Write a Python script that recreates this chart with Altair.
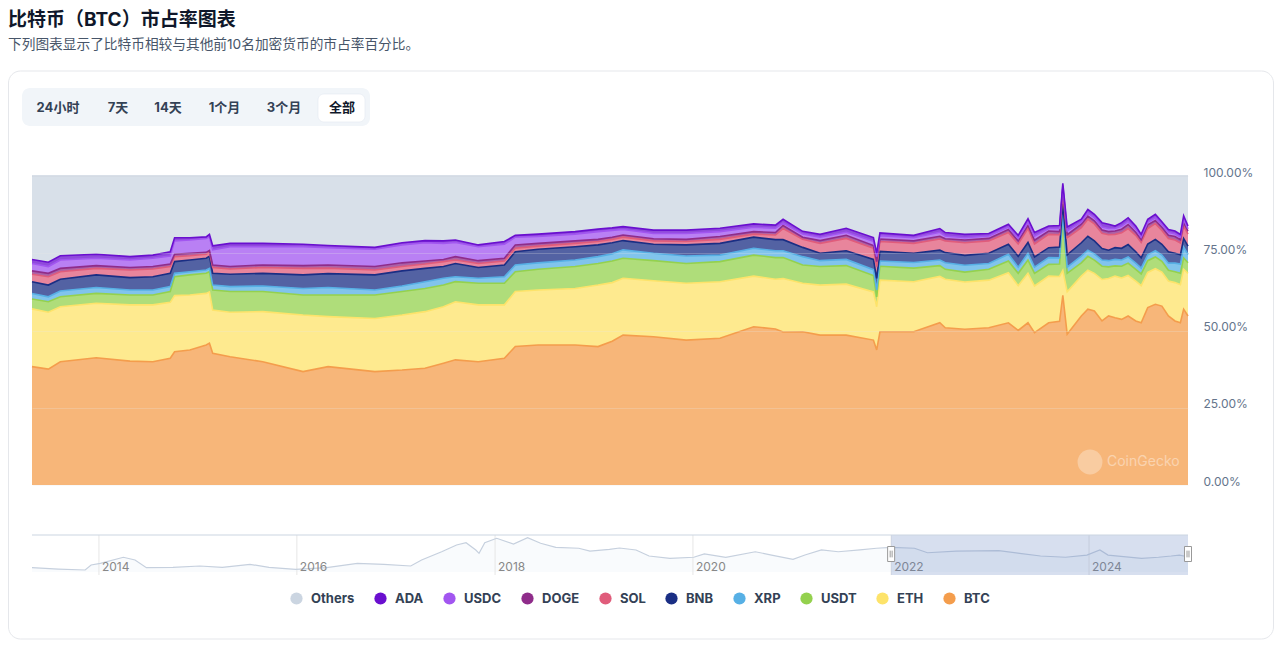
import altair as alt
import pandas as pd

# ---------------- data ----------------
dates = [
    "2022-01-01", "2022-01-16", "2022-01-27", "2022-03-01", "2022-04-01", "2022-04-22", "2022-05-08", "2022-05-12", "2022-05-26", "2022-06-10",
    "2022-06-13", "2022-06-16", "2022-07-02", "2022-08-01", "2022-09-07", "2022-09-30", "2022-11-12", "2022-12-07", "2022-12-28", "2023-01-14",
    "2023-01-25", "2023-02-15", "2023-03-11", "2023-03-21", "2023-04-11", "2023-05-15", "2023-06-05", "2023-06-18", "2023-06-28", "2023-07-26",
    "2023-08-25", "2023-09-25", "2023-10-26", "2023-11-15", "2023-11-22", "2023-12-10", "2023-12-26", "2024-01-19", "2024-02-13", "2024-02-16",
    "2024-02-19", "2024-03-21", "2024-04-14", "2024-04-19", "2024-05-07", "2024-05-29", "2024-06-16", "2024-06-25", "2024-07-04", "2024-07-10",
    "2024-07-23", "2024-08-02", "2024-08-05", "2024-08-09", "2024-08-22", "2024-08-28", "2024-09-03", "2024-09-10", "2024-09-16", "2024-09-22",
    "2024-09-28", "2024-10-04", "2024-10-11", "2024-10-16", "2024-10-22", "2024-10-29", "2024-11-04", "2024-11-10", "2024-11-16", "2024-11-21",
    "2024-11-24", "2024-11-28",
]

btc = [
    38.3, 37.5, 39.9, 41.2, 40.1, 39.9, 41.0, 43.1, 43.7, 45.3,
    45.9, 42.6, 41.5, 39.9, 36.7, 38.3, 36.7, 37.2, 37.8, 39.4,
    40.5, 39.9, 41.0, 44.8, 45.3, 45.3, 44.8, 46.5, 48.5, 48.0,
    46.9, 47.5, 51.2, 50.5, 49.5, 49.6, 48.5, 48.5, 46.9, 43.7,
    49.6, 49.6, 52.5, 50.9, 50.4, 50.9, 52.5, 50.0, 52.5, 49.3,
    52.5, 53.0, 61.4, 48.8, 54.7, 56.9, 56.3, 53.1, 54.7, 54.1,
    53.6, 54.7, 53.1, 52.5, 57.4, 58.5, 57.9, 54.7, 53.1, 52.5,
    56.9, 54.7,
]
eth = [
    18.7, 18.4, 17.8, 17.6, 18.2, 18.4, 18.1, 18.2, 17.8, 16.7,
    16.6, 14.0, 14.4, 16.2, 18.3, 16.2, 17.2, 17.8, 18.3, 18.3,
    18.8, 18.4, 17.3, 17.8, 17.8, 18.3, 19.9, 19.0, 18.4, 18.1,
    18.4, 18.3, 16.4, 16.1, 17.3, 15.7, 16.2, 16.5, 15.6, 14.0,
    16.7, 16.2, 15.0, 15.7, 15.3, 15.4, 16.2, 14.5, 16.0, 15.1,
    15.1, 14.5, 8.1, 13.7, 12.9, 12.6, 12.2, 13.4, 12.1, 13.5,
    13.4, 13.1, 12.9, 12.0, 11.4, 11.5, 11.0, 11.3, 12.4, 12.3,
    12.9, 13.8,
]
usdt = [
    3.2, 3.4, 3.2, 3.2, 3.2, 3.2, 3.5, 6.1, 6.5, 6.5,
    6.5, 6.5, 6.7, 6.5, 6.5, 7.0, 7.6, 7.6, 7.5, 7.0,
    6.5, 7.0, 7.0, 6.4, 6.7, 7.1, 7.0, 7.0, 6.5, 6.5,
    6.4, 6.5, 6.8, 7.0, 6.8, 5.9, 6.0, 6.0, 5.3, 3.2,
    4.5, 4.4, 3.5, 3.2, 3.2, 3.5, 3.8, 4.0, 4.3, 4.1,
    3.8, 4.0, 17.0, 6.0, 4.3, 4.5, 4.3, 4.3, 3.8, 3.3,
    3.8, 4.0, 3.8, 3.8, 3.8, 3.8, 3.5, 3.5, 3.5, 3.7,
    3.7, 3.4,
]
xrp = [
    1.8, 1.6, 1.9, 1.9, 1.6, 1.6, 1.6, 1.1, 1.0, 1.1,
    1.1, 1.6, 1.6, 1.8, 2.1, 2.4, 1.6, 1.8, 2.2, 2.2,
    1.6, 1.6, 2.1, 2.2, 2.1, 2.1, 2.2, 2.3, 2.7, 2.4,
    2.4, 2.1, 2.2, 2.2, 2.2, 2.7, 1.9, 2.0, 1.9, 2.2,
    1.7, 1.8, 1.8, 2.1, 2.2, 1.9, 2.2, 2.0, 2.2, 2.0,
    2.2, 2.0, 1.0, 2.0, 2.2, 2.0, 2.0, 2.0, 2.0, 2.1,
    2.0, 2.0, 2.0, 1.9, 1.9, 2.0, 2.0, 2.3, 2.8, 3.0,
    3.5, 2.7,
]
bnb = [
    3.8, 3.8, 3.8, 4.1, 4.0, 4.3, 4.3, 3.8, 3.8, 3.8,
    3.9, 3.8, 4.0, 4.1, 4.4, 4.5, 4.9, 4.9, 4.3, 3.8,
    4.3, 3.5, 3.8, 4.3, 4.4, 4.3, 3.8, 3.6, 3.0, 2.9,
    3.6, 3.8, 3.6, 3.6, 3.6, 3.0, 2.4, 2.8, 3.3, 3.8,
    3.1, 3.0, 3.2, 3.3, 3.2, 3.3, 3.2, 3.5, 3.5, 3.3,
    3.2, 3.5, 3.5, 4.0, 4.3, 4.5, 4.2, 3.7, 3.4, 3.8,
    3.8, 4.0, 3.7, 3.3, 3.5, 3.7, 3.5, 3.7, 3.2, 3.0,
    2.8, 2.7,
]
sol = [
    2.4, 2.7, 2.4, 2.1, 2.5, 2.5, 2.2, 1.6, 1.4, 1.3,
    1.3, 1.9, 1.7, 1.9, 2.1, 1.8, 1.6, 1.4, 1.4, 1.6,
    1.1, 1.3, 1.3, 1.1, 1.0, 1.1, 1.1, 1.1, 1.1, 1.1,
    1.1, 1.3, 1.0, 1.5, 3.6, 2.6, 3.2, 4.0, 3.6, 3.8,
    3.2, 3.2, 3.6, 3.8, 4.1, 4.0, 3.8, 4.0, 4.5, 4.2,
    4.3, 4.0, 4.2, 5.5, 4.9, 5.5, 5.5, 5.0, 5.0, 4.3,
    5.0, 5.2, 5.3, 5.0, 5.0, 5.1, 4.5, 4.3, 4.3, 3.8,
    4.0, 3.9,
]
doge = [
    1.1, 1.1, 1.1, 0.9, 0.8, 0.8, 0.8, 0.8, 0.8, 0.6,
    0.6, 0.8, 0.8, 0.8, 0.9, 1.0, 1.1, 1.2, 1.0, 0.7,
    1.1, 0.9, 0.9, 1.1, 0.9, 0.8, 0.7, 0.7, 0.7, 0.7,
    0.7, 0.9, 0.8, 0.8, 1.0, 0.7, 0.9, 1.0, 0.9, 1.6,
    0.8, 0.8, 0.9, 0.7, 0.9, 0.8, 1.0, 1.0, 1.0, 1.2,
    1.1, 1.0, 0.8, 1.0, 1.1, 1.0, 1.0, 1.0, 1.0, 1.1,
    1.2, 1.3, 1.0, 0.9, 1.2, 1.0, 1.0, 1.0, 1.1, 1.1,
    1.1, 1.0,
]
usdc = [
    2.4, 2.2, 2.7, 2.4, 2.4, 2.7, 2.6, 4.3, 4.3, 4.5,
    4.4, 4.9, 6.4, 5.9, 6.1, 5.6, 5.6, 5.8, 5.9, 5.2,
    4.6, 4.5, 4.5, 2.5, 2.2, 2.2, 2.5, 2.2, 1.8, 1.7,
    1.9, 1.6, 1.4, 1.4, 0.8, 1.0, 1.1, 1.0, 1.4, 1.6,
    1.1, 1.0, 1.3, 0.9, 0.7, 0.8, 0.8, 0.8, 1.0, 1.3,
    0.8, 1.0, 0.9, 1.2, 0.7, 1.0, 1.0, 1.0, 1.0, 0.8,
    1.0, 1.0, 1.0, 0.8, 0.8, 0.9, 0.9, 0.9, 0.9, 0.8,
    1.1, 0.7,
]
ada = [
    1.3, 1.4, 1.4, 1.3, 1.1, 1.0, 1.4, 1.0, 0.7, 0.5,
    0.8, 1.3, 1.1, 1.1, 0.8, 0.7, 0.6, 0.7, 0.7, 0.8,
    0.8, 0.6, 0.9, 0.6, 0.8, 0.8, 0.8, 0.8, 0.9, 1.1,
    1.1, 1.1, 1.1, 1.0, 1.2, 0.9, 0.9, 1.3, 1.2, 1.1,
    0.9, 0.8, 1.2, 1.1, 1.1, 0.8, 0.9, 1.0, 1.2, 1.2,
    0.8, 1.0, 0.7, 1.3, 0.9, 1.2, 1.1, 1.4, 1.4, 0.8,
    1.1, 1.2, 1.0, 0.9, 1.0, 1.1, 0.9, 1.0, 0.9, 0.9,
    1.1, 0.9,
]
others = [
    27.0, 27.9, 25.8, 25.3, 26.1, 25.6, 24.5, 20.0, 20.0, 19.7,
    18.9, 22.6, 21.8, 21.8, 22.1, 22.5, 23.1, 21.6, 20.9, 21.0,
    20.7, 22.3, 21.2, 19.2, 18.8, 18.0, 17.2, 16.8, 16.4, 17.5,
    17.5, 16.9, 15.5, 15.9, 14.0, 17.9, 18.9, 16.9, 19.9, 25.0,
    18.4, 19.2, 17.0, 18.3, 18.9, 18.6, 15.6, 19.2, 13.8, 18.3,
    16.2, 16.0, 2.4, 16.5, 14.0, 10.8, 12.4, 15.1, 15.6, 16.2,
    15.1, 13.5, 16.2, 18.9, 14.0, 12.4, 14.8, 17.3, 17.8, 18.9,
    12.9, 16.2,
]

# navigator (whole history, "Others" share)
nav_dates = [
    "2013-04-29", "2013-08-04", "2013-11-11", "2013-12-03",
    "2014-01-06", "2014-04-01", "2014-05-14", "2014-06-25", "2014-10-01",
    "2015-01-08", "2015-04-01", "2015-07-12", "2015-09-20", "2015-12-27",
    "2016-04-20", "2016-08-11", "2016-11-17",
    "2017-02-24", "2017-04-05", "2017-06-18", "2017-08-12", "2017-09-16", "2017-10-22", "2017-11-03", "2017-11-24",
    "2018-01-07", "2018-03-10", "2018-05-01", "2018-06-18", "2018-08-13", "2018-11-06", "2018-12-17",
    "2019-02-27", "2019-04-05", "2019-06-05", "2019-07-23", "2019-10-08",
    "2020-01-04", "2020-02-12", "2020-05-01", "2020-08-18", "2020-10-17",
    "2021-01-04", "2021-02-17", "2021-04-19", "2021-06-20", "2021-09-08", "2021-11-08",
    "2022-01-01", "2022-03-28", "2022-05-15", "2022-08-29",
    "2023-02-02", "2023-04-20", "2023-07-06", "2023-10-06", "2023-12-24",
    "2024-02-10", "2024-03-11", "2024-07-13", "2024-09-13", "2024-10-30", "2024-11-29", "2024-12-31",
]
nav_values = [
    4.9, 3.4, 2.3, 7.9,
    9.8, 16.6, 13.5, 4.9, 5.3,
    6.8, 5.3, 8.7, 5.3, 3.1,
    4.9, 9.8, 8.7,
    6.8, 13.5, 22.8, 30.4, 33.0, 24.8, 21.0, 33.0,
    37.9, 31.5, 38.6, 32.3, 27.8, 26.7, 23.6,
    25.5, 27.0, 24.8, 18.0, 15.4,
    16.6, 20.3, 16.6, 22.8, 19.1,
    14.3, 19.1, 24.8, 22.8, 24.8, 26.7,
    27.8, 26.7, 21.7, 23.6,
    24.0, 21.0, 18.0, 16.6, 19.1,
    24.8, 19.1, 15.4, 16.6, 18.0, 19.1, 17.2,
]
nav_years = [2014, 2016, 2018, 2020, 2022, 2024]

x_tick_months = [(2022, 4), (2022, 7), (2022, 10), (2023, 1), (2023, 4), (2023, 7),
                 (2023, 10), (2024, 1), (2024, 4), (2024, 7), (2024, 10)]
y_ticks = [0, 25, 50, 75, 100]

legend_order = ["Others", "ADA", "USDC", "DOGE", "SOL", "BNB", "XRP", "USDT", "ETH", "BTC"]
legend_colors = ["#cbd5e1", "#6a0fcf", "#a256f0", "#8f2c8a", "#e05c7b", "#1a2e84", "#57b0e5", "#94d14e", "#fde36a", "#f49d4c"]
stack_order = ["BTC", "ETH", "USDT", "XRP", "BNB", "SOL", "DOGE", "USDC", "ADA", "Others"]

button_labels = ["24小时", "7天", "14天", "1个月", "3个月", "全部"]
title_text = "比特币（BTC）市占率图表"
subtitle_text = "下列图表显示了比特币相较与其他前10名加密货币的市占率百分比。"

# ---------------- build tables ----------------
series = {"BTC": btc, "ETH": eth, "USDT": usdt, "XRP": xrp, "BNB": bnb, "SOL": sol,
          "DOGE": doge, "USDC": usdc, "ADA": ada, "Others": others}
rows = []
for rank, coin in enumerate(stack_order):
    vals = series[coin]
    assert len(vals) == len(dates), coin
    for d, v in zip(dates, vals):
        rows.append({"date": d, "coin": coin, "value": v, "rank": rank})
df = pd.DataFrame(rows)
assert len(nav_dates) == len(nav_values)
nav_df = pd.DataFrame({"date": nav_dates, "value": nav_values})
years_df = pd.DataFrame({"date": [f"{y}-01-01" for y in nav_years], "label": [str(y) for y in nav_years]})
mask_df = pd.DataFrame({"date": ["2022-01-01"], "end": ["2024-12-31"]})
handles_df = pd.DataFrame({"date": ["2022-01-01", "2024-12-31"]})
one = pd.DataFrame({"k": [0]})

FONT = "Inter, 'Noto Sans CJK SC', sans-serif"
W, H = 1156, 309


def utc(y, m, d):
    return alt.DateTime(year=y, month=m, date=d, utc=True)


# ---------------- main chart ----------------
x_scale = alt.Scale(type="utc", domain=[utc(2022, 1, 1), utc(2024, 11, 28)], nice=False)
y_scale = alt.Scale(domain=[0, 100], nice=False, zero=True)

x_axis = alt.Axis(
    values=[utc(y, m, 1) for y, m in x_tick_months],
    labelExpr="utcFormat(datum.value, '%-m') + \"月 '\" + utcFormat(datum.value, '%y')",
    grid=False, domain=False, ticks=True, tickSize=10, tickColor="#e2e8f0", tickWidth=1,
    labelPadding=0, labelFont=FONT, labelFontSize=12, labelColor="#64748b",
    title=None, labelFlush=False, labelOverlap=False,
)
y_axis = alt.Axis(
    orient="right", values=y_ticks, labelExpr="format(datum.value, '.2f') + '%'",
    domain=False, ticks=False, grid=True, gridColor="#e6e6e6", gridOpacity=0.25, gridWidth=1,
    zindex=1, labelPadding=15, labelAlign="left", labelBaseline="alphabetic",
    labelFont=FONT, labelFontSize=12, labelColor="#64748b", title=None,
    labelFlush=False, labelOverlap=False,
)
legend = alt.Legend(
    orient="none", legendX=258, legendY=416, direction="horizontal", title=None,
    symbolType="circle", symbolSize=150, symbolOpacity=1, symbolStrokeWidth=0,
    labelFont=FONT, labelFontSize=13, labelFontWeight="bold", labelColor="#334155",
    labelOffset=8, columnPadding=19, columns=10, gridAlign="none",
)
color_scale = alt.Scale(domain=legend_order, range=legend_colors)

stacked = alt.Chart(df).transform_stack(
    stack="value", groupby=["date"], as_=["y0", "y1"],
    sort=[alt.SortField("rank", order="ascending")],
)
areas = stacked.mark_area(opacity=0.75, strokeWidth=0).encode(
    x=alt.X("date:T", scale=x_scale, axis=x_axis),
    y=alt.Y("y1:Q", scale=y_scale, axis=y_axis),
    y2="y0:Q",
    color=alt.Color("coin:N", scale=color_scale, legend=legend),
)
lines = stacked.mark_line(strokeWidth=1.6).encode(
    x="date:T", y="y1:Q",
    color=alt.Color("coin:N", scale=color_scale, legend=None),
)

card = alt.Chart(one).mark_rect(fill="white", stroke="#e5e7eb", strokeWidth=1, cornerRadius=12).encode(
    x=alt.value(-23.5), x2=alt.value(1241.5), y=alt.value(-105), y2=alt.value(463))
btn_bg = alt.Chart(one).mark_rect(fill="#f1f5f9", cornerRadius=8).encode(
    x=alt.value(-10), x2=alt.value(338), y=alt.value(-88), y2=alt.value(-50))
btn_sel = alt.Chart(one).mark_rect(fill="white", stroke="#e2e8f0", strokeWidth=0.6, cornerRadius=6).encode(
    x=alt.value(286), x2=alt.value(333), y=alt.value(-82), y2=alt.value(-54))
button_x = [26, 86, 136, 192.5, 252, 310]
btn_texts = []
for lab, bx in zip(button_labels, button_x):
    btn_texts.append(alt.Chart(one).mark_text(
        text=lab, font=FONT, fontSize=13, fontWeight="bold",
        color="#0f172a" if lab == "全部" else "#334155", align="center", baseline="middle",
    ).encode(x=alt.value(bx), y=alt.value(-68.5)))

title_t = alt.Chart(one).mark_text(
    text=title_text, font=FONT, fontSize=19, fontWeight="bold", color="#0f172a",
    align="left", baseline="middle").encode(x=alt.value(-24), y=alt.value(-156))
subtitle_t = alt.Chart(one).mark_text(
    text=subtitle_text, font=FONT, fontSize=13.7, color="#475569",
    align="left", baseline="middle").encode(x=alt.value(-24), y=alt.value(-131.5))

wm_circle = alt.Chart(one).mark_point(shape="circle", filled=True, color="white", opacity=0.3, size=620).encode(
    x=alt.value(1058), y=alt.value(286))
wm_text = alt.Chart(one).mark_text(text="CoinGecko", font=FONT, fontSize=14, color="white", opacity=0.4,
                                   align="left", baseline="middle").encode(x=alt.value(1075), y=alt.value(286))

main = alt.layer(card, btn_bg, btn_sel, *btn_texts, title_t, subtitle_t, areas, lines, wm_circle, wm_text)

# ---------------- navigator ----------------
nav_x_scale = alt.Scale(type="utc", domain=[utc(2013, 4, 29), utc(2024, 12, 31)], nice=False)
nav_y_scale = alt.Scale(domain=[-3.3, 41.6], range=[399, 359], nice=False, zero=False)
nx = alt.X("date:T", scale=nav_x_scale, axis=None)
ny = alt.Y("value:Q", scale=nav_y_scale, axis=None)

nav_fill = alt.Chart(nav_df).mark_area(color="#f8fafc", opacity=0.8).encode(x=nx, y=ny, y2=alt.value(399))
nav_grid = alt.Chart(years_df).mark_rule(color="#e6e6e6", strokeWidth=1).encode(
    x=nx, y=alt.value(359), y2=alt.value(399))
nav_line = alt.Chart(nav_df).mark_line(color="#c6d0de", strokeWidth=1.2).encode(x=nx, y=ny)
nav_labels = alt.Chart(years_df).mark_text(align="left", baseline="middle", dx=3, font=FONT, fontSize=12,
                                           color="#888888").encode(x=nx, y=alt.value(391), text="label:N")
nav_mask = alt.Chart(mask_df).mark_rect(color="#6685c2", opacity=0.26).encode(
    x=nx, x2="end:T", y=alt.value(359), y2=alt.value(399))
nav_top = alt.Chart(one).mark_rule(color="#cbd5e1", strokeWidth=1).encode(
    x=alt.value(0), x2=alt.value(W), y=alt.value(359))
nav_handles = alt.Chart(handles_df).mark_point(
    shape="M-0.467,-1H0.467V1H-0.467Z", size=225, filled=True, fill="white",
    stroke="#999999", strokeWidth=1, opacity=1).encode(x=nx, y=alt.value(378))
nav_grips = alt.Chart(handles_df).mark_point(
    shape="M-0.13,-0.45V0.45M0.13,-0.45V0.45", size=225, filled=False,
    stroke="#999999", strokeWidth=1, opacity=1).encode(x=nx, y=alt.value(378))

nav = alt.layer(nav_fill, nav_grid, nav_line, nav_labels, nav_mask, nav_top, nav_handles, nav_grips)

chart = alt.layer(main, nav).resolve_scale(x="independent", y="independent").properties(
    width=W, height=H,
    padding={"left": 24, "top": 168, "right": 86, "bottom": 155},
    autosize=alt.AutoSizeParams(type="none"),
    background="white",
).configure_view(stroke=None)

chart.save("out.html", embed_options={"renderer": "svg", "actions": False})
